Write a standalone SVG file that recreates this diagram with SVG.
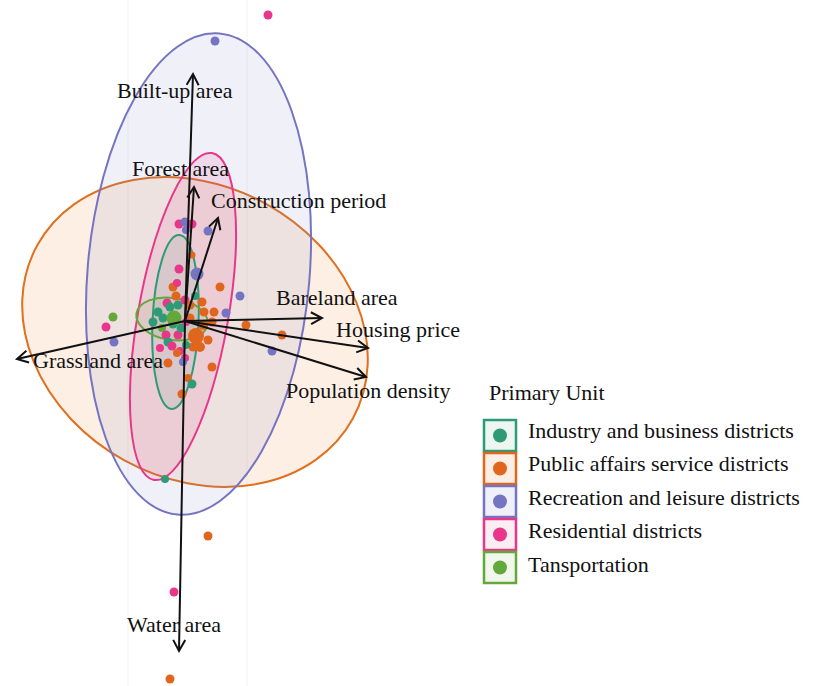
<svg xmlns="http://www.w3.org/2000/svg" width="815" height="686" viewBox="0 0 815 686">
<defs>
<style>
.lbl{font-family:"Liberation Serif","Times New Roman",serif;font-size:22px;fill:#111}
.ax{stroke:#111;stroke-width:2;fill:none;marker-end:url(#ah)}
.ell{stroke-width:2}
.t{fill:#2f9a78}.o{fill:#e0661e}.p{fill:#7474c2}.k{fill:#e8378a}.g{fill:#63a83a}
.grid{stroke:#f3f3f3;stroke-width:1}
</style>
<marker id="ah" markerUnits="userSpaceOnUse" markerWidth="16" markerHeight="16" refX="12" refY="7" orient="auto">
<path d="M1,1 L12,7 L1,13" fill="none" stroke="#111" stroke-width="2"/>
</marker>
</defs>
<rect width="815" height="686" fill="#fff"/>
<g id="grid">
<line class="grid" x1="128" y1="0" x2="128" y2="686"/>
<line class="grid" x1="247" y1="0" x2="247" y2="686"/>
</g>
<g id="ellipses">
<g id="ell-public"><ellipse class="ell" cx="195" cy="332" rx="180" ry="146.5" transform="rotate(28.8 195 332)" fill="#f5a060" fill-opacity="0.17" stroke="#e0701e"/></g>
<g id="ell-recreation"><ellipse class="ell" cx="198.5" cy="274" rx="111" ry="241.5" transform="rotate(5 198.5 274)" fill="#8080c8" fill-opacity="0.12" stroke="#7474c2"/></g>
<g id="ell-residential"><ellipse class="ell" cx="183" cy="316.5" rx="45" ry="166" transform="rotate(10.1 183 316.5)" fill="#e8378a" fill-opacity="0.12" stroke="#e8378a"/></g>
<g id="ell-industry"><ellipse class="ell" cx="175.5" cy="322" rx="23" ry="87" transform="rotate(2.5 175.5 322)" fill="#2f9a78" fill-opacity="0.1" stroke="#2f9a78"/></g>
<g id="ell-transport"><ellipse class="ell" cx="172" cy="319" rx="36" ry="21" transform="rotate(9 172 319)" fill="#63a83a" fill-opacity="0.1" stroke="#63a83a"/></g>
</g>
<g id="points">
<circle class="k" cx="268" cy="15" r="4.5"/>
<circle class="p" cx="215" cy="41" r="4.5"/>
<circle class="k" cx="179" cy="224" r="4.5"/>
<circle class="p" cx="185" cy="222" r="4.5"/>
<circle class="p" cx="186" cy="230" r="4"/>
<circle class="k" cx="192" cy="224" r="4.5"/>
<circle class="p" cx="208" cy="231" r="4.5"/>
<circle class="o" cx="192" cy="255" r="3.5"/>
<circle class="k" cx="179" cy="269" r="4.5"/>
<circle class="p" cx="197" cy="274" r="6.5"/>
<circle class="o" cx="173" cy="287" r="4.5"/>
<circle class="o" cx="220" cy="287" r="4.5"/>
<circle class="p" cx="240" cy="296" r="4.5"/>
<circle class="o" cx="202" cy="302" r="4.5"/>
<circle class="o" cx="214" cy="312" r="4.5"/>
<circle class="p" cx="226" cy="313" r="4.5"/>
<circle class="o" cx="246" cy="325" r="4.5"/>
<circle class="o" cx="282" cy="335" r="4.5"/>
<circle class="p" cx="272" cy="351" r="4.5"/>
<circle class="o" cx="168" cy="363" r="4.5"/>
<circle class="o" cx="212" cy="367" r="4.5"/>
<circle class="o" cx="188" cy="378" r="4"/>
<circle class="t" cx="192" cy="384" r="4.5"/>
<circle class="o" cx="182" cy="394" r="4.5"/>
<circle class="g" cx="113" cy="317" r="4.5"/>
<circle class="k" cx="106" cy="327" r="4.5"/>
<circle class="p" cx="114" cy="342" r="4.5"/>
<circle class="t" cx="165" cy="479" r="4"/>
<circle class="o" cx="208" cy="536" r="4.5"/>
<circle class="k" cx="174" cy="592" r="4.5"/>
<circle class="o" cx="170" cy="679" r="4.5"/>
<circle class="t" cx="153" cy="322" r="4.5"/>
<circle class="t" cx="158" cy="312" r="4.5"/>
<circle class="t" cx="163" cy="318" r="4.5"/>
<circle class="g" cx="162" cy="328" r="4"/>
<circle class="k" cx="167" cy="303" r="4.5"/>
<circle class="t" cx="170" cy="307" r="4.5"/>
<circle class="o" cx="176" cy="296" r="4.5"/>
<circle class="t" cx="178" cy="305" r="4.5"/>
<circle class="k" cx="177" cy="283" r="4"/>
<circle class="t" cx="195" cy="296" r="4"/>
<circle class="k" cx="185" cy="300" r="4.5"/>
<circle class="o" cx="190" cy="305" r="4.5"/>
<circle class="o" cx="204" cy="312" r="4.5"/>
<circle class="t" cx="173" cy="324" r="4.5"/>
<circle class="k" cx="166" cy="335" r="4.5"/>
<circle class="t" cx="168" cy="342" r="4.5"/>
<circle class="k" cx="172" cy="346" r="4.5"/>
<circle class="k" cx="178" cy="335" r="4.5"/>
<circle class="t" cx="181" cy="328" r="4.5"/>
<circle class="k" cx="180" cy="351" r="4"/>
<circle class="o" cx="177" cy="353" r="4"/>
<circle class="k" cx="160" cy="348" r="4"/>
<circle class="o" cx="190" cy="318" r="4.5"/>
<circle class="k" cx="186" cy="322" r="4"/>
<circle class="o" cx="212" cy="322" r="4.5"/>
<circle class="o" cx="203" cy="325" r="5"/>
<circle class="o" cx="208" cy="340" r="4.5"/>
<circle class="o" cx="200" cy="347" r="5"/>
<circle class="o" cx="193" cy="347" r="4.5"/>
<circle class="t" cx="186" cy="345" r="4"/>
<circle class="k" cx="185" cy="358" r="4"/>
<circle class="p" cx="183" cy="362" r="4"/>
<circle class="g" cx="174" cy="318" r="7.5"/>
<circle class="o" cx="196" cy="336" r="8"/>
</g>
<g id="connectors">
<line class="ax" x1="185" y1="321" x2="193" y2="74"/>
<line class="ax" x1="185" y1="321" x2="194" y2="187"/>
<line class="ax" x1="185" y1="321" x2="218" y2="218"/>
<line class="ax" x1="185" y1="321" x2="322" y2="318"/>
<line class="ax" x1="185" y1="321" x2="368" y2="348"/>
<line class="ax" x1="185" y1="321" x2="366" y2="377"/>
<line class="ax" x1="185" y1="321" x2="17" y2="359"/>
<line class="ax" x1="185" y1="321" x2="179" y2="651"/>
</g>
<g id="labels">
<text class="lbl" x="117" y="98">Built-up area</text>
<text class="lbl" x="132" y="176">Forest area</text>
<text class="lbl" x="211" y="208">Construction period</text>
<text class="lbl" x="276" y="305">Bareland area</text>
<text class="lbl" x="336" y="337">Housing price</text>
<text class="lbl" x="286" y="398">Population density</text>
<text class="lbl" x="33" y="368">Grassland area</text>
<text class="lbl" x="127" y="632">Water area</text>
</g>
<g id="legend">
<text class="lbl" x="489" y="400">Primary Unit</text>
<g id="leg-industry">
<rect x="484" y="420" width="32" height="31" fill="#eef6f2" stroke="#2f9a78" stroke-width="2.5"/>
<circle class="t" cx="500" cy="435.5" r="7"/>
<text class="lbl" x="528" y="438">Industry and business districts</text>
</g>
<g id="leg-public">
<rect x="484" y="453" width="32" height="31" fill="#fbeee4" stroke="#e0661e" stroke-width="2.5"/>
<circle class="o" cx="500" cy="468.5" r="7"/>
<text class="lbl" x="528" y="471">Public affairs service districts</text>
</g>
<g id="leg-recreation">
<rect x="484" y="486" width="32" height="31" fill="#f0f0f8" stroke="#7474c2" stroke-width="2.5"/>
<circle class="p" cx="500" cy="501.5" r="7"/>
<text class="lbl" x="528" y="505">Recreation and leisure districts</text>
</g>
<g id="leg-residential">
<rect x="484" y="519" width="32" height="31" fill="#fbeef3" stroke="#e8378a" stroke-width="2.5"/>
<circle class="k" cx="500" cy="534.5" r="7"/>
<text class="lbl" x="528" y="538">Residential districts</text>
</g>
<g id="leg-transport">
<rect x="484" y="552" width="32" height="31" fill="#f2f7ee" stroke="#63a83a" stroke-width="2.5"/>
<circle class="g" cx="500" cy="567.5" r="7"/>
<text class="lbl" x="528" y="572">Tansportation</text>
</g>
</g>
</svg>
